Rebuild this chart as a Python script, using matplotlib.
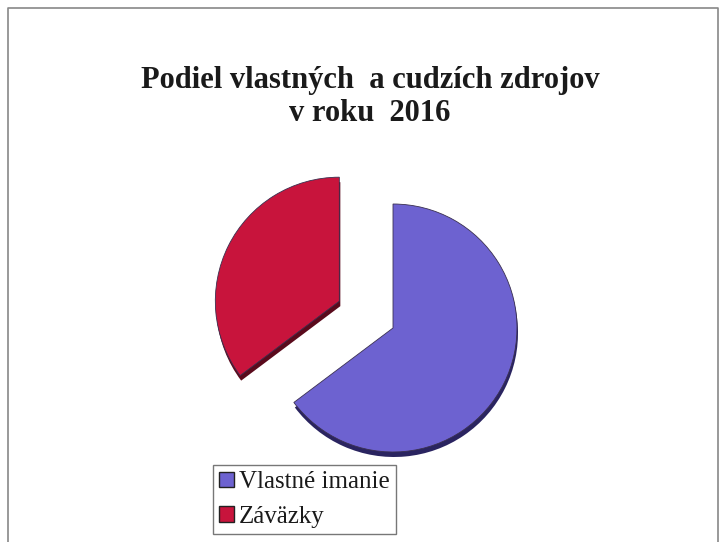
import matplotlib.pyplot as plt

labels = ['Vlastné imanie', 'Záväzky']
shares = [64.75, 35.25]
colors = ['#6d62d0', '#c8143c']
edge_colors = ['#2a2460', '#5a0a1c']

W, H = 721, 542

fig = plt.figure(figsize=(W / 100, H / 100), dpi=100)
ax = fig.add_axes([0, 0, 1, 1])

center = (393, H - 328)
radius = 124
explode = [0, 60]

# darker copy underneath for the 3D edge
shadow, _ = ax.pie(shares, colors=edge_colors, startangle=90, counterclock=False,
                   explode=explode, radius=radius,
                   center=(center[0] + 1, center[1] - 5), frame=True)
wedges, _ = ax.pie(shares, colors=colors, startangle=90, counterclock=False,
                   explode=explode, radius=radius, center=center, frame=True,
                   wedgeprops=dict(edgecolor='#3a3050', linewidth=0.6))
ax.set_xlim(0, W)
ax.set_ylim(0, H)
ax.set_aspect('equal')
ax.axis('off')

# outer frame
ax.plot([8, 8, 718, 718], [0, H - 8, H - 8, 0], color='#888888', lw=1.2)

fig.text(370 / W, 1 - 97 / H, 'Podiel vlastných  a cudzích zdrojov\nv roku  2016',
         ha='center', va='center', fontsize=22, fontweight='bold',
         family='Liberation Serif', color='#1a1a1a', linespacing=1.2)

leg = ax.legend(wedges, labels, loc='upper left', bbox_to_anchor=(213 / W, 1 - 465 / H),
                prop={'family': 'Liberation Serif', 'size': 18},
                frameon=True, fancybox=False, handlelength=0.6, handleheight=0.6,
                handletextpad=0.2, borderpad=0.25, labelspacing=0.5, borderaxespad=0)
leg.get_frame().set_edgecolor('#555555')
leg.get_frame().set_linewidth(1.0)
for h in leg.legend_handles:
    h.set_edgecolor('#222222')
    h.set_linewidth(1.0)
for t in leg.get_texts():
    t.set_color('#1a1a1a')

fig.savefig('out.png', dpi=100)
